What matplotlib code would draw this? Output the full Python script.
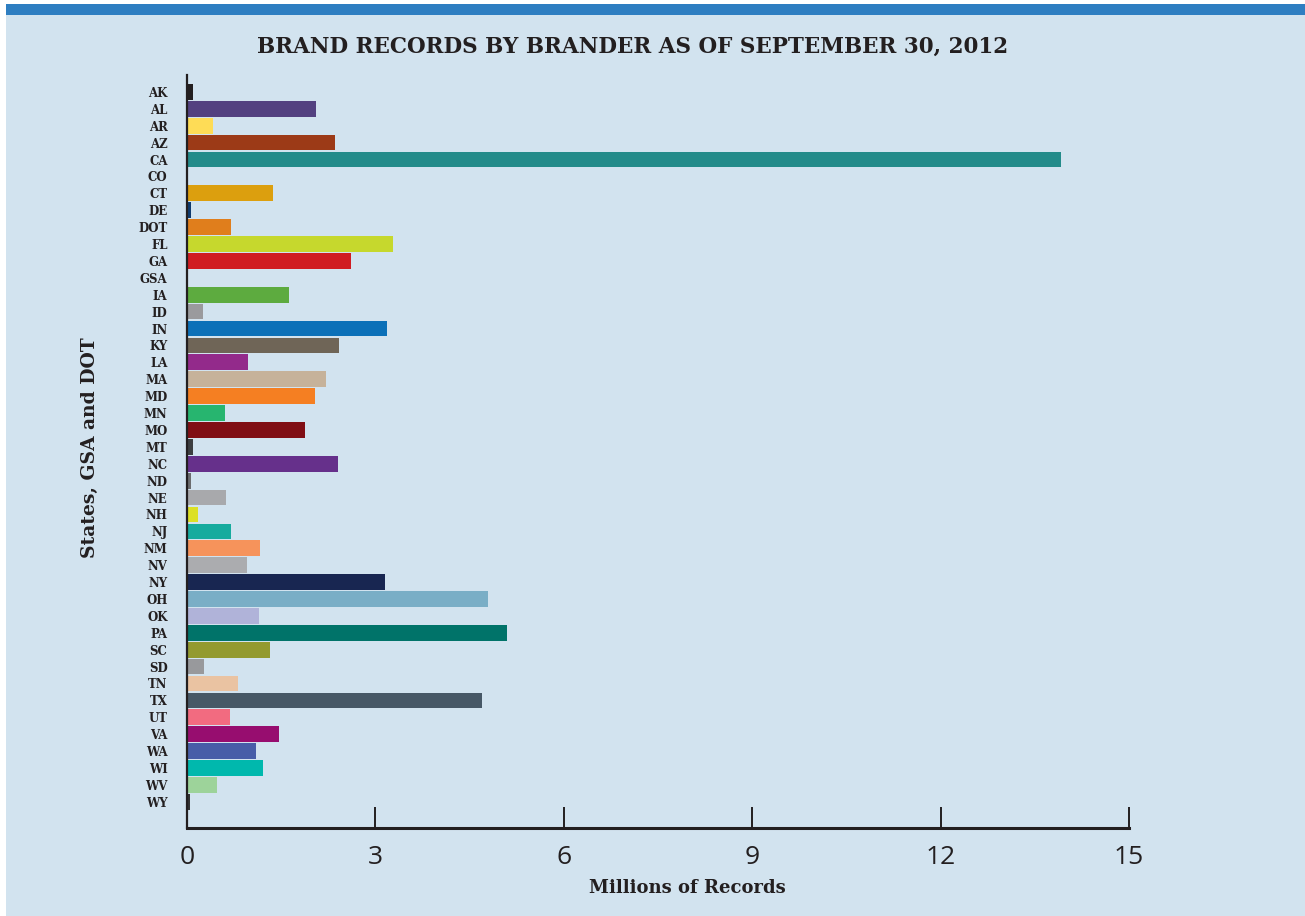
import matplotlib
matplotlib.use("Agg")
import matplotlib.pyplot as plt
from matplotlib.patches import Rectangle

categories = ["AK", "AL", "AR", "AZ", "CA", "CO", "CT", "DE", "DOT", "FL", "GA", "GSA",
              "IA", "ID", "IN", "KY", "LA", "MA", "MD", "MN", "MO", "MT", "NC", "ND",
              "NE", "NH", "NJ", "NM", "NV", "NY", "OH", "OK", "PA", "SC", "SD", "TN",
              "TX", "UT", "VA", "WA", "WI", "WV", "WY"]
values = [0.10, 2.05, 0.41, 2.36, 13.92, 0.02, 1.37, 0.06, 0.70, 3.28, 2.61, 0.01,
          1.62, 0.25, 3.18, 2.42, 0.97, 2.21, 2.04, 0.61, 1.88, 0.10, 2.40, 0.06,
          0.62, 0.18, 0.70, 1.16, 0.96, 3.15, 4.79, 1.15, 5.10, 1.32, 0.27, 0.81,
          4.70, 0.68, 1.46, 1.10, 1.21, 0.48, 0.05]
colors = ["#231f20", "#534180", "#fedc56", "#9c3a17", "#238b8a", "#333333", "#dc9f0e",
          "#0d3a6e", "#e07e1c", "#c6d82d", "#d01c22", "#444444", "#5dab3f", "#9a9a9d",
          "#0b70b8", "#6f6557", "#932a8b", "#c6b29a", "#f57f22", "#27b56f", "#800e14",
          "#3c3e40", "#66308b", "#6b6c6e", "#a8a9ac", "#dce025", "#16ab9e", "#f6935b",
          "#abacaf", "#182651", "#7aaec6", "#b0b3d9", "#007369", "#939a2f", "#98999c",
          "#eac3a2", "#475866", "#f26b80", "#970d6f", "#475da8", "#00b8ad", "#9dd39a",
          "#333333"]
x_ticks = [0, 3, 6, 9, 12, 15]

title = "BRAND RECORDS BY BRANDER AS OF SEPTEMBER 30, 2012"
xlabel = "Millions of Records"
ylabel = "States, GSA and DOT"

W, H = 1305, 916
fig = plt.figure(figsize=(W / 100, H / 100), dpi=100, facecolor="white")

panel = "#d2e3ef"
fig.patches.append(Rectangle((6 / W, 0), 1 - 6 / W, 1 - 15 / H, transform=fig.transFigure,
                             facecolor=panel, edgecolor="none", zorder=-5))
fig.patches.append(Rectangle((6 / W, 1 - 15 / H), 1 - 6 / W, 11 / H, transform=fig.transFigure,
                             facecolor="#2e7ec1", edgecolor="none", zorder=-5))

left, right = 187 / W, 1129 / W
bottom, top = 1 - 828 / H, 1 - 75 / H
ax = fig.add_axes([left, bottom, right - left, top - bottom])
ax.set_facecolor("none")

ypos = list(range(len(categories)))
ax.barh(ypos, values, height=0.93, color=colors, zorder=2)

ax.set_xlim(0, 15)
ax.set_ylim(len(categories) - 1 + 1.55, -1.0)
ax.set_yticks(ypos)
ax.set_yticklabels(categories, family="DejaVu Serif", fontweight="bold", fontsize=8.5,
                   color="#231f20")
ax.tick_params(axis="y", length=0, pad=14)
ax.set_xticks(x_ticks)
ax.set_xticklabels([str(t) for t in x_ticks], family="Open Sans", fontsize=19,
                   color="#231f20")
ax.tick_params(axis="x", direction="in", length=15, width=1.4, color="#231f20", pad=12)

for s in ["top", "right"]:
    ax.spines[s].set_visible(False)
ax.spines["bottom"].set_linewidth(2.2)
ax.spines["bottom"].set_color("#231f20")
ax.spines["left"].set_linewidth(1.6)
ax.spines["left"].set_color("#231f20")

fig.text(633 / W, 1 - 47 / H, title, ha="center", va="center", family="DejaVu Serif",
         fontweight="bold", fontsize=15.5, color="#231f20")
fig.text(687 / W, 1 - 888 / H, xlabel, ha="center", va="center", family="DejaVu Serif",
         fontweight="bold", fontsize=13, color="#231f20")
fig.text(90 / W, 1 - 448 / H, ylabel, ha="center", va="center", rotation=90,
         family="DejaVu Serif", fontweight="bold", fontsize=13.5, color="#231f20")

fig.savefig("out.png", dpi=100, facecolor="white")
